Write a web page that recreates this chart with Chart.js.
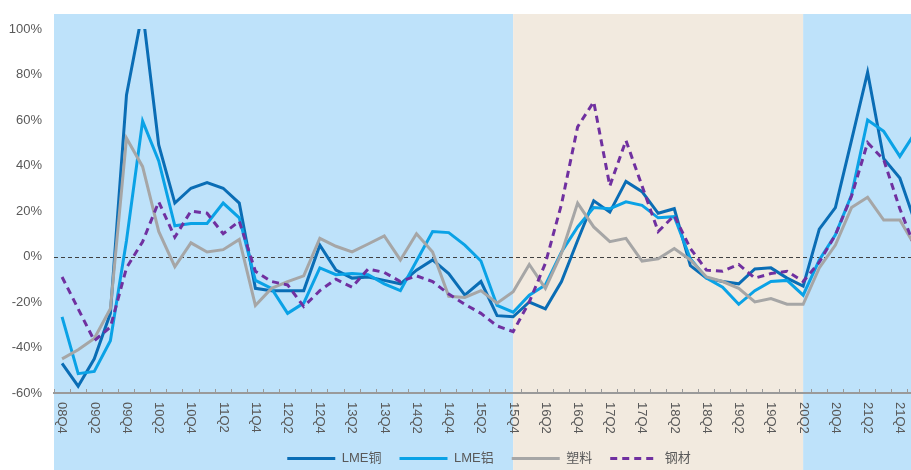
<!DOCTYPE html>
<html>
<head>
<meta charset="utf-8">
<script src="https://cdn.jsdelivr.net/npm/chart.js@4/dist/chart.umd.min.js"></script>
<style>
  html, body { margin: 0; padding: 0; overflow: hidden; background: #ffffff; }
  #wrap { position: relative; width: 924px; height: 470px; }
</style>
</head>
<body>
<div id="wrap"><canvas id="chart"></canvas></div>
<script>
// Quarterly year-on-year change (%)
const quarters = [
  '08Q4',
  '09Q1', '09Q2', '09Q3', '09Q4',
  '10Q1', '10Q2', '10Q3', '10Q4',
  '11Q1', '11Q2', '11Q3', '11Q4',
  '12Q1', '12Q2', '12Q3', '12Q4',
  '13Q1', '13Q2', '13Q3', '13Q4',
  '14Q1', '14Q2', '14Q3', '14Q4',
  '15Q1', '15Q2', '15Q3', '15Q4',
  '16Q1', '16Q2', '16Q3', '16Q4',
  '17Q1', '17Q2', '17Q3', '17Q4',
  '18Q1', '18Q2', '18Q3', '18Q4',
  '19Q1', '19Q2', '19Q3', '19Q4',
  '20Q1', '20Q2', '20Q3', '20Q4',
  '21Q1', '21Q2', '21Q3', '21Q4',
  '22Q1'
];

const lmeCopper = [
  -47,
  -57, -45, -25, 71,
  108, 49, 23.5, 30,
  32.5, 30, 23.5, -14,
  -15, -15, -15, 5,
  -6, -9.5, -9, -10.5,
  -12, -6, -1.5, -7.5,
  -17, -11, -26, -26.5,
  -20, -23, -11, 7,
  24.5, 19.5, 33, 28.5,
  19, 21, -4, -9.5,
  -11, -12, -5.5, -5,
  -9.5, -13, 12, 21.5,
  51, 81, 43, 34.5,
  14
];

const lmeAluminium = [
  -26.5,
  -51.5, -50.5, -37, 7,
  59.5, 42, 13.5, 14.5,
  14.5, 23.5, 17, -10.5,
  -14, -25, -20.5, -5,
  -8, -7.5, -8, -12,
  -15, -2, 11, 10.5,
  5, -2, -21.5, -24.5,
  -17, -12.5, 2, 13,
  21.5, 21, 24, 22.5,
  17, 17.5, -1, -9.5,
  -13.5, -21, -15, -11,
  -10.5, -17, -1.5, 9.5,
  27, 60, 55, 44,
  55
];

const plastics = [
  -45,
  -41, -36, -23, 52,
  39.5, 11, -4.5, 6,
  2, 3, 7.5, -21.5,
  -14, -11, -8.5, 8,
  4.5, 2, 5.5, 9,
  -1.5, 10, 2, -17.5,
  -18, -15, -20.5, -15.5,
  -3.5, -14, 1.5, 23.5,
  13, 6.5, 8, -2,
  -1, 3.5, -1.5, -9,
  -11, -14, -20, -18.5,
  -21, -21, -5, 5,
  21.5, 26, 16, 16,
  4
];

const steel = [
  -9,
  -23, -37, -31, -5,
  6.5, 24, 8.5, 20,
  19, 10, 15.5, -6.5,
  -11, -12.5, -22, -15,
  -10, -13.5, -5.5, -7,
  -11, -8.5, -11, -16.5,
  -21, -25, -30.5, -33,
  -20, -3, 23, 57,
  68, 31, 51, 31,
  11, 18, 3.5, -6,
  -6.5, -3.5, -9.5, -7.5,
  -6.5, -11, -2.5, 9.5,
  26.5, 50, 42.5, 21,
  3
];

const seriesNames = ['LME铜', 'LME铝', '塑料', '钢材'];
const yTickValues = [-60, -40, -20, 0, 20, 40, 60, 80, 100];

// Quarters bounding the shaded middle period
const periodStart = '15Q4';
const periodEnd = '20Q2';

const BAND_BLUE = '#BEE2FA';
const BAND_BEIGE = '#F2EADF';
const TEXT_GREY = '#595959';
const FONT_FAMILY = '"Liberation Sans", Arial, "Noto Sans CJK SC", sans-serif';

// Coloured background bands behind the plot and the legend
const bandsPlugin = {
  id: 'bands',
  beforeDraw(chart) {
    const { ctx, chartArea, scales } = chart;
    const xs = scales.x;
    const a = xs.getPixelForValue(quarters.indexOf(periodStart));
    const b = xs.getPixelForValue(quarters.indexOf(periodEnd));
    const top = chartArea.top - 15;
    const h = chart.height - top;
    ctx.save();
    ctx.fillStyle = BAND_BLUE;
    ctx.fillRect(chartArea.left, top, a - chartArea.left, h);
    ctx.fillStyle = BAND_BEIGE;
    ctx.fillRect(a, top, b - a, h);
    ctx.fillStyle = BAND_BLUE;
    ctx.fillRect(b, top, chart.width - b, h);
    ctx.restore();
  }
};

// Dashed reference line at 0%
const zeroLinePlugin = {
  id: 'zeroLine',
  beforeDatasetsDraw(chart) {
    const { ctx, chartArea, scales } = chart;
    const y0 = Math.round(scales.y.getPixelForValue(0)) + 0.5;
    ctx.save();
    ctx.strokeStyle = '#404040';
    ctx.lineWidth = 1;
    ctx.setLineDash([4, 3]);
    ctx.beginPath();
    ctx.moveTo(chartArea.left, y0);
    ctx.lineTo(chartArea.right, y0);
    ctx.stroke();
    ctx.restore();
  }
};

// Quarter labels, every second category, written top-to-bottom
const quarterLabelsPlugin = {
  id: 'quarterLabels',
  afterDraw(chart) {
    const { ctx, chartArea, scales } = chart;
    const xs = scales.x;
    ctx.save();
    ctx.font = '13px ' + FONT_FAMILY;
    ctx.fillStyle = TEXT_GREY;
    ctx.textAlign = 'left';
    ctx.textBaseline = 'middle';
    for (let i = 0; i < quarters.length; i += 2) {
      const px = xs.getPixelForValue(i);
      ctx.save();
      ctx.translate(px, chartArea.bottom + 9);
      ctx.rotate(Math.PI / 2);
      ctx.fillText(quarters[i], 0, 0);
      ctx.restore();
    }
    ctx.restore();
  }
};

function lineSet(label, data, color, order, dash) {
  return {
    label,
    data,
    borderColor: color,
    backgroundColor: color,
    borderWidth: 3,
    borderDash: dash || [],
    pointRadius: 0,
    pointHoverRadius: 0,
    tension: 0,
    fill: false,
    order
  };
}

new Chart(document.getElementById('chart'), {
  type: 'line',
  data: {
    labels: quarters,
    datasets: [
      lineSet(seriesNames[0], lmeCopper, '#0A6DB5', 3),
      lineSet(seriesNames[1], lmeAluminium, '#0AA2E6', 2),
      lineSet(seriesNames[2], plastics, '#A6A6A6', 1),
      lineSet(seriesNames[3], steel, '#7030A0', 0, [7, 5])
    ]
  },
  options: {
    responsive: true,
    maintainAspectRatio: false,
    animation: false,
    devicePixelRatio: 1,
    layout: { padding: { top: 29, right: 0, bottom: 6, left: 0 } },
    plugins: {
      tooltip: { enabled: false },
      legend: {
        position: 'bottom',
        align: 'center',
        fullSize: false,
        maxHeight: 30,
        labels: {
          usePointStyle: true,
          pointStyle: 'line',
          pointStyleWidth: 48,
          padding: 18,
          color: TEXT_GREY,
          font: { size: 13, family: FONT_FAMILY },
          sort: (a, b) => a.datasetIndex - b.datasetIndex,
          generateLabels(chart) {
            const items = Chart.defaults.plugins.legend.labels.generateLabels(chart);
            items.forEach(item => {
              const ds = chart.data.datasets[item.datasetIndex];
              item.lineDash = ds.borderDash;
              item.lineWidth = ds.borderWidth;
              item.strokeStyle = ds.borderColor;
              item.pointStyle = 'line';
            });
            return items;
          }
        }
      }
    },
    scales: {
      x: {
        type: 'category',
        offset: true,
        grid: {
          display: true,
          drawOnChartArea: false,
          drawTicks: true,
          offset: true,
          tickLength: -4,
          tickColor: '#9A9A9A',
          tickWidth: 1
        },
        border: { display: true, color: '#9A9A9A', width: 2 },
        ticks: { display: false, autoSkip: false },
        afterFit(scale) { scale.height = 41; }
      },
      y: {
        min: -60,
        max: 100,
        grid: { display: false, drawTicks: false },
        border: { display: false },
        afterBuildTicks(scale) { scale.ticks = yTickValues.map(v => ({ value: v })); },
        ticks: {
          padding: 12,
          color: TEXT_GREY,
          font: { size: 13, family: FONT_FAMILY },
          callback: v => v + '%'
        },
        afterFit(scale) { scale.width = 54; }
      }
    }
  },
  plugins: [bandsPlugin, zeroLinePlugin, quarterLabelsPlugin]
});
</script>
</body>
</html>
